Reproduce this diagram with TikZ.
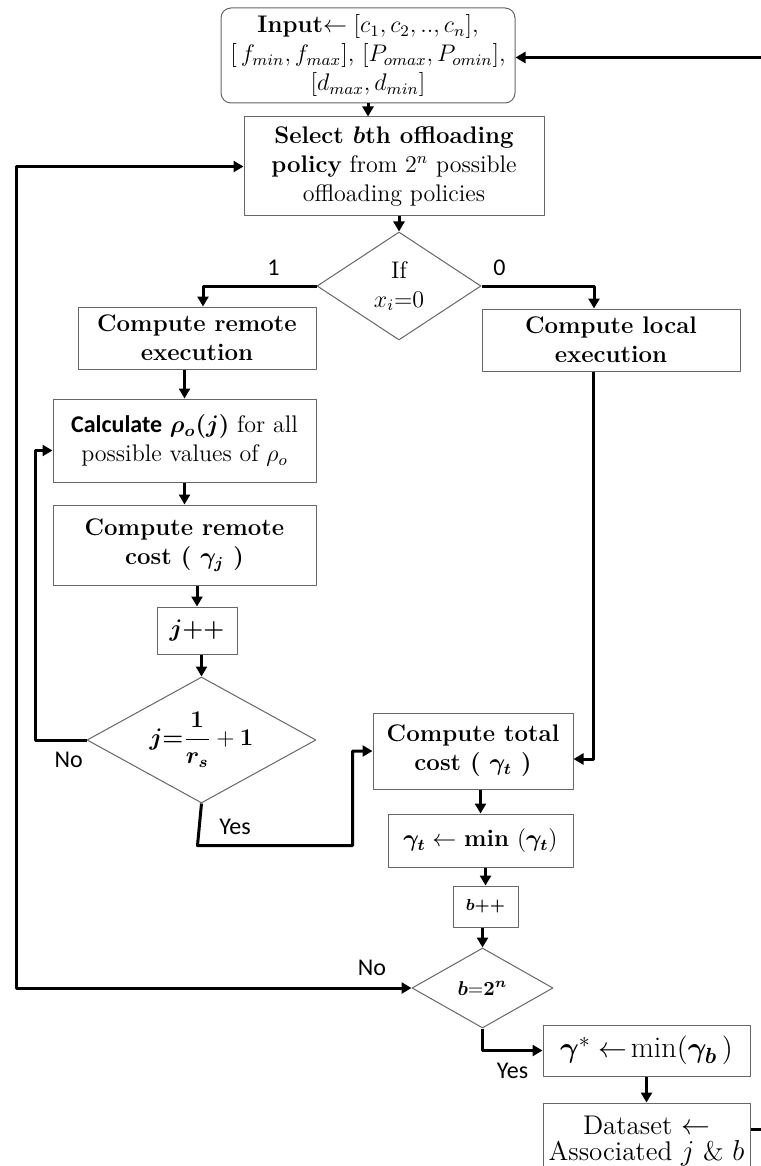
\documentclass[tikz,border=0pt]{standalone}
\usepackage{fontspec}
\usepackage{bm}
\usetikzlibrary{shapes.geometric,arrows.meta}
\newfontfamily\calibri{Carlito}
\begin{document}
\begin{tikzpicture}[x=0.5pt,y=-0.5pt,>={Triangle[length=5pt,width=5.5pt]},line join=round,
	font=\fontsize{12}{14.5}\selectfont,
	box/.style={draw=black!60,line width=0.5pt,align=center,inner sep=0pt},
	dec/.style={diamond,draw=black!60,line width=0.5pt,align=center,inner sep=0pt},
	flow/.style={->,line width=1.5pt},
	lab/.style={font=\calibri\fontsize{12}{14}\selectfont}]
	\useasboundingbox (0,0) rectangle (760,1166);
	% Boxes
	\node[box,rounded corners=5pt,minimum width=147pt,minimum height=47.5pt] (inp) at (368,55.5)
	{\textbf{Input}$\leftarrow[c_1,c_2,..,c_n]$,\\$[\,f_{min},f_{max}]$, $[P_{omax},P_{omin}]$,\\$[d_{max},d_{min}]$};
	\node[box,minimum width=150pt,minimum height=49.5pt] (sel) at (394,166.5)
	{\textbf{Select $\bm{b}$th offloading}\\\textbf{policy} from $2^n$ possible\\offloading policies};
	\node[dec,minimum width=82pt,minimum height=54pt] (if1) at (399,286) {If\\$x_i$=0};
	\node[box,minimum width=119pt,minimum height=31pt] (rem) at (197,338) {\textbf{Compute remote}\\\textbf{execution}};
	\node[box,minimum width=131.5pt,minimum height=41.5pt] (calc) at (184.5,440.5)
	{{\calibri\bfseries Calculate} $\bm{\rho_o(j)}$ for all\\possible values of $\rho_o$};
	\node[box,minimum width=131.5pt,minimum height=40pt] (cost) at (184.5,545) {\textbf{Compute remote}\\\textbf{cost ( $\bm{\gamma_j}$ )}};
	\node[box,minimum width=40pt,minimum height=23.5pt] (jpp) at (197,630.5) {$\bm{j}$\textbf{++}};
	\node[dec,shape aspect=1.82,inner sep=-3pt,minimum width=114.5pt,minimum height=63pt] (if2) at (201.5,740)
	{$\displaystyle\bm{j}\textbf{=}\bm{\frac{1}{r_s}}+\bm{1}$};
	\node[box,minimum width=129pt,minimum height=31pt] (loc) at (611,340) {\textbf{Compute local}\\\textbf{execution}};
	\node[box,minimum width=100pt,minimum height=38pt] (tot) at (473,751) {\textbf{Compute total}\\\textbf{cost ( $\bm{\gamma_t}$ )}};
	\node[box,minimum width=92.5pt,minimum height=26.5pt] (gmin) at (480.5,840.5) {$\bm{\gamma_t}\leftarrow$ \textbf{min} $(\bm{\gamma_t})$};
	\node[box,minimum width=32.5pt,minimum height=20.5pt,font=\fontsize{8}{9}\selectfont] (bpp) at (485.5,906.5) {$\bm{b}$\textbf{++}};
	\node[dec,minimum width=70.5pt,minimum height=40pt,font=\fontsize{10}{12}\selectfont] (if3) at (482.5,988) {$\bm{b}$=$\bm{2^n}$};
	\node[box,minimum width=103.5pt,minimum height=25.5pt,font=\fontsize{15}{18}\selectfont] (gst) at (646.5,1050.5)
	{$\bm{\gamma}^{*}\leftarrow\!\min(\bm{\gamma_b}\,)$};
	\node[box,minimum width=103.5pt,minimum height=38pt,font=\fontsize{13.5}{13}\selectfont] (dat) at (646.5,1141)
	{Dataset $\leftarrow$\\Associated $j$ \& $b$};
	% Connectors
	\draw[flow] (inp.south) -- (inp.south |- sel.north);
	\draw[flow] (if1.north |- sel.south) -- (if1.north);
	\draw[flow] (if1.west) -| ([xshift=3pt]rem.north) node[lab,pos=0.19,above=1pt] {1};
	\draw[flow] (if1.east) -| ([xshift=-8.5pt]loc.north) node[lab,pos=0.08,above=1pt] {0};
	\draw[flow] (calc.north |- rem.south) -- (calc.north);
	\draw[flow] (calc.south) -- (cost.north);
	\draw[flow] (jpp.north |- cost.south) -- (jpp.north);
	\draw[flow] (if2.north |- jpp.south) -- (if2.north);
	\draw[flow] (if2.west) -- ++(-51,0) node[lab,pos=0.35,below=2pt] {No} |- ([yshift=-5pt]calc.west);
	\draw[flow] (if2.south) -- ++(-4,42) node[lab,pos=0.55,right=6pt] {Yes} -- ++(155,0) |- (tot.west);
	\draw[flow] ([xshift=-9pt]loc.south) |- ([yshift=-4pt]tot.east);
	\draw[flow] (gmin.north |- tot.south) -- (gmin.north);
	\draw[flow] (bpp.north |- gmin.south) -- (bpp.north);
	\draw[flow] (if3.north |- bpp.south) -- (if3.north);
	\draw[flow,<->] (if3.west) -- ++(-395,0) node[lab,pos=0.1,above=2pt] {No} |- (sel.west);
	\draw[flow] (if3.south) |- (gst.west) node[lab,pos=0.75,below=2pt] {Yes};
	\draw[flow] (gst.south) -- (dat.north);
	\draw[flow] ([yshift=6pt]dat.east) -- ++(30,0) |- ([yshift=-1pt]inp.east);
\end{tikzpicture}
\end{document}
